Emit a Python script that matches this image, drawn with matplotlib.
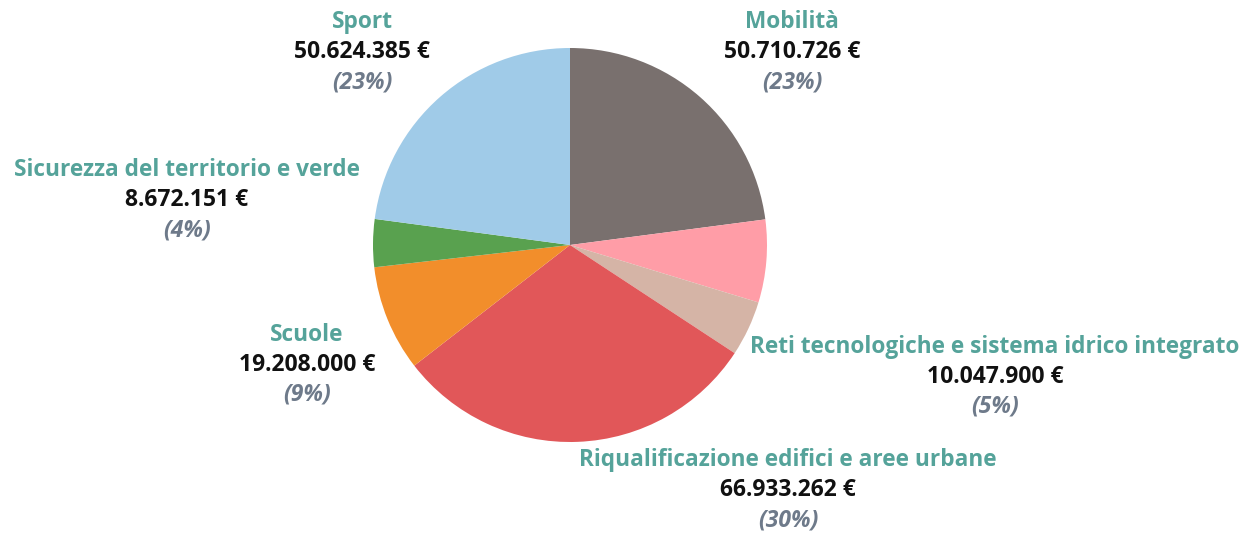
import matplotlib.pyplot as plt

categories = ["Mobilità", "", "Reti tecnologiche e sistema idrico integrato",
              "Riqualificazione edifici e aree urbane", "Scuole",
              "Sicurezza del territorio e verde", "Sport"]
values = [50710726, 15000000, 10047900, 66933262, 19208000, 8672151, 50624385]
colors = ["#79706E", "#FF9DA7", "#D5B4A6", "#E15759", "#F28E2B", "#59A14F", "#A0CBE8"]

# label anchor (pixel coords from top-left) for each category
label_pos = {
    "Mobilità": (792, 22),
    "Reti tecnologiche e sistema idrico integrato": (995, 347),
    "Riqualificazione edifici e aree urbane": (788, 460),
    "Scuole": (307, 335),
    "Sicurezza del territorio e verde": (187, 170),
    "Sport": (362, 22),
}

W, H = 1256, 533
fig = plt.figure(figsize=(W / 100, H / 100), dpi=100)
ax = fig.add_axes([0, 0, 1, 1])

ax.pie(values, colors=colors, startangle=90, counterclock=False,
       center=(570, H - 245), radius=197, wedgeprops=dict(linewidth=0))
ax.set_xlim(0, W)
ax.set_ylim(0, H)
ax.set_aspect("equal")
ax.axis("off")

total = sum(values)
font = "Open Sans"
for name, val in zip(categories, values):
    if not name:
        continue
    x, y = label_pos[name]
    amount = f"{val:,}".replace(",", ".") + " €"
    pct = f"({round(val / total * 100)}%)"
    ax.text(x, H - y, name, ha="center", va="center", fontsize=16.3,
            fontweight="bold", color="#55A39A", family=font)
    ax.text(x, H - y - 30, amount, ha="center", va="center", fontsize=16.5,
            fontweight="bold", color="#111111", family=font)
    ax.text(x, H - y - 60, pct, ha="center", va="center", fontsize=16.5,
            fontstyle="italic", fontweight="bold", color="#6E7A8A", family=font)

fig.savefig("out.png", dpi=100)
